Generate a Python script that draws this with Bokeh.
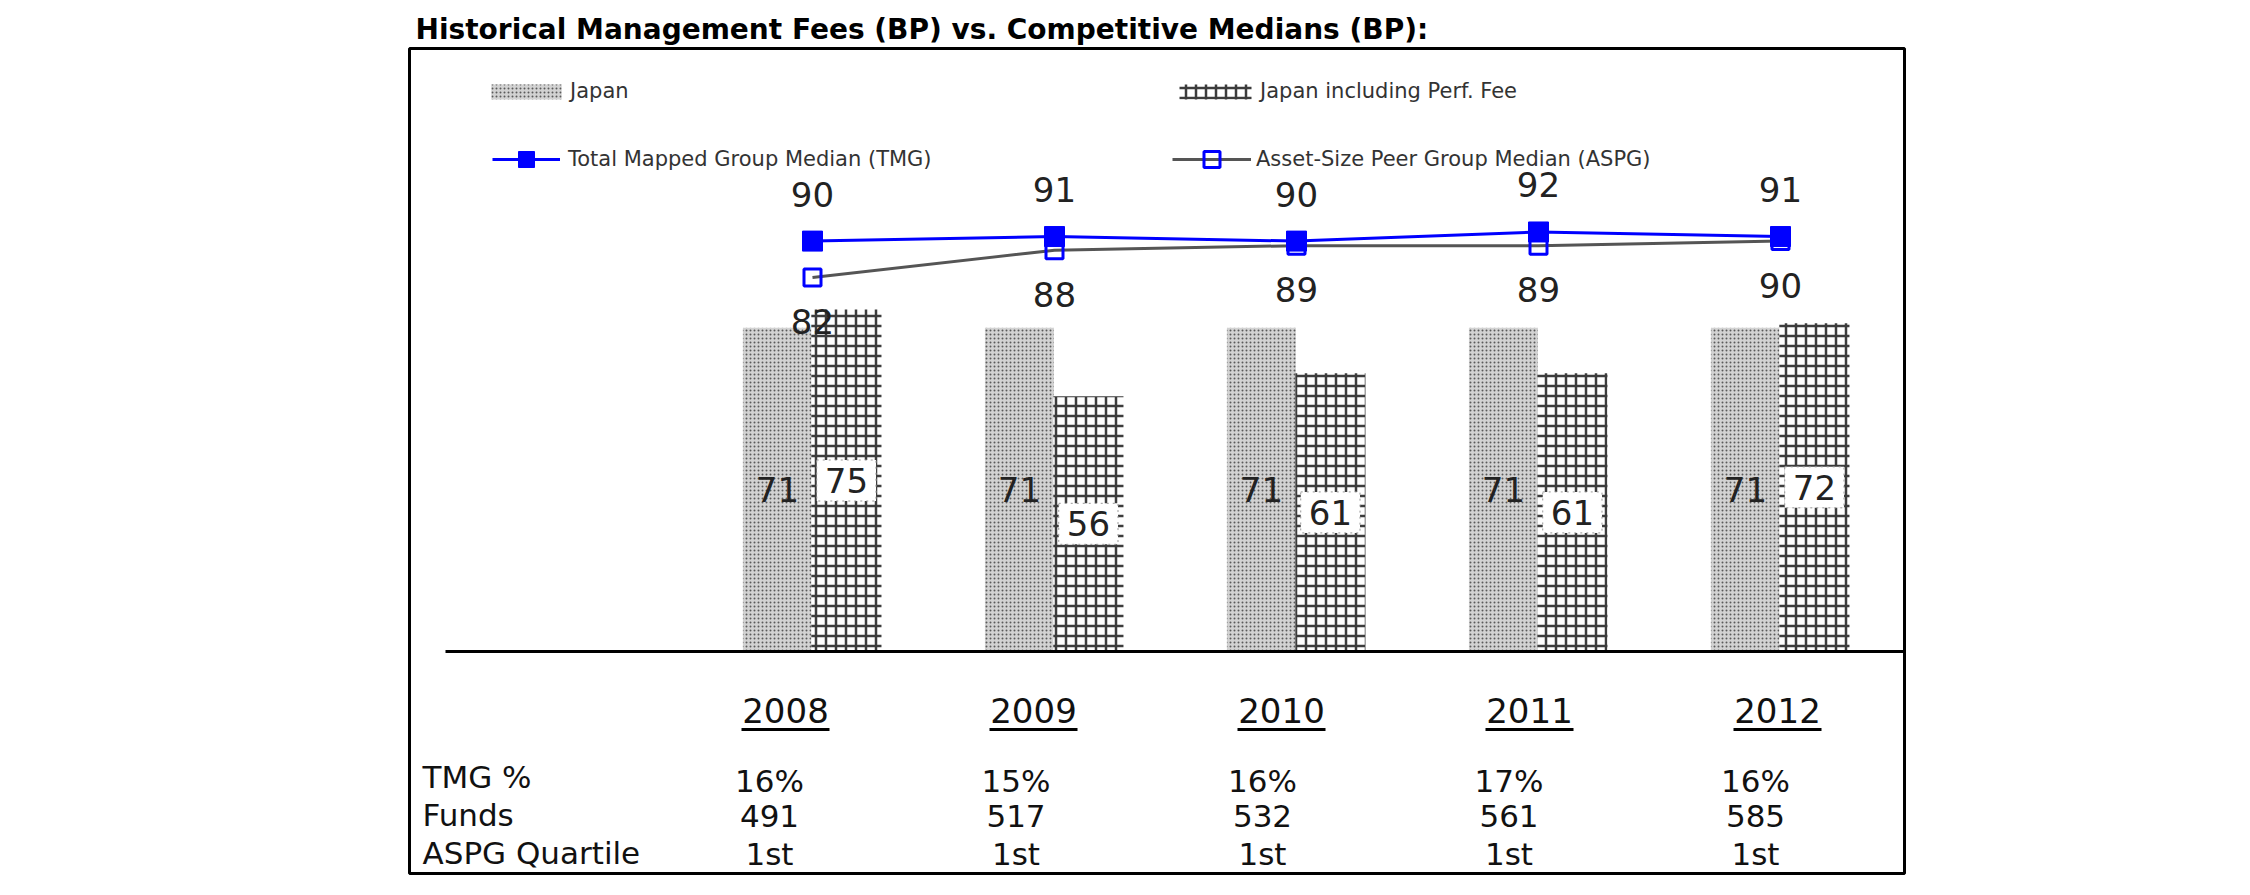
import numpy as np
from bokeh.plotting import figure
from bokeh.models import ColumnDataSource, Range1d, Legend, LegendItem
from bokeh.core.properties import value
from bokeh.embed import file_html
from bokeh.resources import INLINE

# ---------------- data ----------------
years = ["2008", "2009", "2010", "2011", "2012"]
japan = [71, 71, 71, 71, 71]
japan_perf = [75, 56, 61, 61, 72]
tmg_median = [90, 91, 90, 92, 91]
aspg_median = [82, 88, 89, 89, 90]
tmg_pct = ["16%", "15%", "16%", "17%", "16%"]
funds = [491, 517, 532, 561, 585]
aspg_quartile = ["1st", "1st", "1st", "1st", "1st"]
row_labels = ["TMG %", "Funds", "ASPG Quartile"]
series_names = ["Japan", "Japan including Perf. Fee",
                "Total Mapped Group Median (TMG)",
                "Asset-Size Peer Group Median (ASPG)"]
title_text = "Historical Management Fees (BP) vs. Competitive Medians (BP):"

# ---------------- layout (pixels) ----------------
W, H = 2250, 895
FL, FR, FT, FB = 409, 1904, 48, 873      # frame box
X0, DX = 812.0, 242.0                    # px of first category centre, px per category
Y0, DY = 651.0, 4.56                     # px of zero line, px per BP
YEAR_X0, YEAR_DX = 785.0, 248.0          # table header columns
VAL_X0, VAL_DX = 769.0, 246.5            # table value columns


def px2x(px):
    return (px - X0) / DX


def px2y(py):
    return (Y0 - py) / DY


FONT = value("DejaVu Sans")

p = figure(width=W, height=H,
           x_range=Range1d(px2x(FL), px2x(FR)),
           y_range=Range1d(px2y(FB), px2y(FT)),
           output_backend="svg", toolbar_location=None,
           x_axis_location=None, y_axis_location=None,
           min_border_left=FL, min_border_right=W - FR,
           min_border_top=FT, min_border_bottom=H - FB,
           title=title_text,
           background_fill_color="white", border_fill_color="white",
           outline_line_color="black", outline_line_width=3)
p.grid.visible = False
p.title.text_font = "DejaVu Sans"
p.title.text_font_style = "bold"
p.title.text_font_size = "28px"
p.title.text_color = "#000000"
p.title.align = "left"
p.title.offset = 6
p.title.standoff = 6

idx = np.arange(len(years))
src = ColumnDataSource(dict(
    idx=idx,
    x_j=idx - 0.145,
    x_p=idx + 0.14,
    japan=japan,
    perf=japan_perf,
    j_mid=np.array(japan) / 2.0,
    p_mid=np.array(japan_perf) / 2.0,
    tmg=tmg_median,
    aspg=aspg_median,
    japan_txt=[str(v) for v in japan],
    perf_txt=[str(v) for v in japan_perf],
    tmg_txt=[str(v) for v in tmg_median],
    aspg_txt=[str(v) for v in aspg_median],
))

# bars
r_j = p.vbar(x="x_j", top="japan", bottom=0, width=0.285, source=src,
             fill_color="#d2d2d2", line_color=None,
             hatch_pattern="dot", hatch_color="#5a5a5a", hatch_scale=4, hatch_weight=1)
r_p = p.vbar(x="x_p", top="perf", bottom=0, width=0.29, source=src,
             fill_color="white", line_color=None,
             hatch_pattern="cross", hatch_color="#3c3c3c", hatch_scale=10, hatch_weight=2.5)

# baseline
p.segment(x0=[px2x(445)], y0=[0], x1=[px2x(FR)], y1=[0], line_color="black", line_width=3)

# lines + markers
l_a = p.line("idx", "aspg", source=src, line_color="#555555", line_width=3)
l_t = p.line("idx", "tmg", source=src, line_color="#0000ff", line_width=3)
s_t = p.scatter("idx", "tmg", source=src, marker="square", size=20,
                fill_color="#0000ff", line_color="#0000ff")
s_a = p.scatter("idx", "aspg", source=src, marker="square", size=17,
                fill_alpha=0, line_color="#0000ff", line_width=3)

# value labels
lab = dict(text_font=FONT, text_font_size="34px", text_color="#222222",
           text_align="center", text_baseline="middle")
p.text("idx", "tmg", text="tmg_txt", source=src, y_offset=-47, **lab)
p.text("idx", "aspg", text="aspg_txt", source=src, y_offset=44, **lab)
p.text("x_j", "j_mid", text="japan_txt", source=src, **lab)
p.text("x_p", "p_mid", text="perf_txt", source=src,
       background_fill_color="white", border_line_color="#999999",
       border_line_dash="dotted", border_line_width=1, padding=8, **lab)

# year headers with underline
year_x = px2x(YEAR_X0 + YEAR_DX * idx)
p.text(x=year_x, y=[px2y(710)] * len(years), text=years,
       text_font=FONT, text_font_size="34px", text_color="#111111",
       text_align="center", text_baseline="middle")
p.segment(x0=year_x - 44 / DX, y0=[px2y(729)] * len(years),
          x1=year_x + 44 / DX, y1=[px2y(729)] * len(years),
          line_color="black", line_width=3)

# table
row_y = [px2y(776), px2y(814), px2y(852)]
val_y = [px2y(780), px2y(815), px2y(853)]
val_x = px2x(VAL_X0 + VAL_DX * idx)
tab = dict(text_font=FONT, text_font_size="31px", text_color="#111111",
           text_baseline="middle")
p.text(x=[px2x(422)] * 3, y=row_y, text=row_labels, text_align="left", **tab)
for ry, vals in zip(val_y, [tmg_pct, [str(f) for f in funds], aspg_quartile]):
    p.text(x=val_x, y=[ry] * len(years), text=vals, text_align="center", **tab)

# legends
leg_common = dict(padding=0, margin=0, border_line_color=None, background_fill_alpha=0,
                  label_text_font="DejaVu Sans", label_text_font_size="21px",
                  label_text_color="#333333")
leg_a = Legend(items=[LegendItem(label=series_names[0], renderers=[r_j])],
               location=(482 - FL, FB - 103), glyph_width=88, glyph_height=19,
               label_height=19, label_standoff=0, **leg_common)
leg_b = Legend(items=[LegendItem(label=series_names[1], renderers=[r_p])],
               location=(1170 - FL, FB - 103), glyph_width=90, glyph_height=19,
               label_height=19, label_standoff=0, **leg_common)
leg_c = Legend(items=[LegendItem(label=series_names[2], renderers=[l_t, s_t])],
               location=(492 - FL, FB - 179), glyph_width=68, glyph_height=40,
               label_height=40, label_standoff=8, **leg_common)
leg_d = Legend(items=[LegendItem(label=series_names[3], renderers=[l_a, s_a])],
               location=(1172 - FL, FB - 179), glyph_width=79, glyph_height=40,
               label_height=40, label_standoff=5, **leg_common)
for lg in (leg_a, leg_b, leg_c, leg_d):
    p.add_layout(lg)

open("out.html", "w").write(file_html(p, INLINE))
